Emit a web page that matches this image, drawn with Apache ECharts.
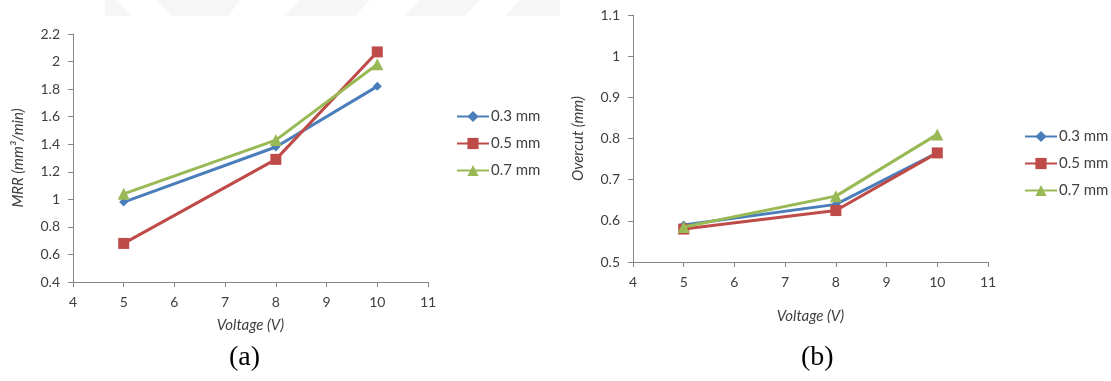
<!DOCTYPE html>
<html>
<head>
<meta charset="utf-8">
<script src="https://cdn.jsdelivr.net/npm/echarts@6/dist/echarts.min.js"></script>
<style>
  html, body { margin: 0; padding: 0; background: #fff; }
  #chart { width: 1111px; height: 381px; }
</style>
</head>
<body>
<div id="chart"></div>
<script>
// Voltage levels (V)
const voltage = [5, 8, 10];
const seriesNames = ['0.3 mm', '0.5 mm', '0.7 mm'];

// (a) Material removal rate (mm³/min)
const mrr03 = [0.98, 1.38, 1.82];
const mrr05 = [0.68, 1.29, 2.07];
const mrr07 = [1.04, 1.43, 1.98];

// (b) Overcut (mm)
const oc03 = [0.59, 0.64, 0.765];
const oc05 = [0.58, 0.625, 0.765];
const oc07 = [0.585, 0.66, 0.81];

const colors = ['#4A7EBB', '#BE4B48', '#98B954'];
const symbols = ['diamond', 'rect', 'triangle'];
const symbolSizes = [9, 11, 12];

const font = 'Lato, "Open Sans", sans-serif';
const tickText = { color: '#404040', fontSize: 14, fontFamily: font };
const axisLineStyle = { color: '#868686', width: 1 };

function pairs(xs, ys) { return xs.map((x, i) => [x, ys[i]]); }

function makeSeries(dataSets, axisIndex) {
  return dataSets.map((vals, i) => ({
    name: seriesNames[i],
    type: 'line',
    xAxisIndex: axisIndex,
    yAxisIndex: axisIndex,
    data: pairs(voltage, vals),
    symbol: symbols[i],
    symbolSize: symbolSizes[i],
    showAllSymbol: true,
    lineStyle: { color: colors[i], width: 3 },
    itemStyle: { color: colors[i] },
    emphasis: { disabled: true },
    animation: false,
    z: 2 + i
  }));
}

function xAxis(gridIndex, nameGap) {
  return {
    type: 'value', gridIndex, min: 4, max: 11, interval: 1,
    name: 'Voltage (V)', nameLocation: 'middle', nameGap,
    nameTextStyle: { fontStyle: 'italic', fontSize: 15, color: '#404040', fontFamily: font },
    axisLine: { show: true, lineStyle: axisLineStyle },
    axisTick: { show: true, length: 5, lineStyle: axisLineStyle },
    axisLabel: Object.assign({ margin: 13 }, tickText),
    splitLine: { show: false }
  };
}

function yAxis(gridIndex, min, max, interval, name, nameGap) {
  return {
    type: 'value', gridIndex, min, max, interval,
    name, nameLocation: 'middle', nameGap,
    nameTextStyle: { fontStyle: 'italic', fontSize: 15, color: '#404040', fontFamily: font },
    axisLine: { show: true, lineStyle: axisLineStyle },
    axisTick: { show: true, length: 5, lineStyle: axisLineStyle },
    axisLabel: Object.assign({ margin: 13 }, tickText),
    splitLine: { show: false }
  };
}

function legend(left, top) {
  return {
    orient: 'vertical', left, top,
    data: seriesNames,
    itemWidth: 32, itemHeight: 14, itemGap: 12,
    textStyle: { fontSize: 15, color: '#404040', fontFamily: font, padding: [0, 0, 0, -3] },
    selectedMode: false
  };
}

const chart = echarts.init(document.getElementById('chart'), null, { renderer: 'canvas' });

const option = {
  backgroundColor: '#ffffff',
  animation: false,
  graphic: [
    // faint header band across the top
    { type: 'rect', shape: { x: 105, y: 0, width: 455, height: 16 }, style: { fill: '#f6f6f6' }, silent: true },
    { type: 'polygon', shape: { points: [[117, 0], [157, 0], [172, 16], [132, 16]] }, style: { fill: '#ffffff' }, silent: true },
    { type: 'polygon', shape: { points: [[240, 0], [300, 0], [283, 16], [228, 16]] }, style: { fill: '#ffffff' }, silent: true },
    { type: 'polygon', shape: { points: [[370, 0], [420, 0], [405, 16], [355, 16]] }, style: { fill: '#ffffff' }, silent: true },
    { type: 'polygon', shape: { points: [[480, 0], [520, 0], [505, 16], [465, 16]] }, style: { fill: '#ffffff' }, silent: true },
    // panel captions
    { type: 'text', left: 229, top: 344, style: { text: '(a)', font: '28px "Liberation Serif", "DejaVu Serif", serif', fill: '#000' } },
    { type: 'text', left: 801, top: 344, style: { text: '(b)', font: '28px "Liberation Serif", "DejaVu Serif", serif', fill: '#000' } }
  ],
  grid: [
    { left: 73, top: 34, width: 355, height: 248, containLabel: false },
    { left: 633, top: 15, width: 355, height: 247, containLabel: false }
  ],
  xAxis: [xAxis(0, 36), xAxis(1, 47)],
  yAxis: [
    yAxis(0, 0.4, 2.2, 0.2, 'MRR (mm³/min)', 47),
    yAxis(1, 0.5, 1.1, 0.1, 'Overcut (mm)', 47)
  ],
  legend: [legend(451, 104), legend(1019, 124)],
  series: [].concat(
    makeSeries([mrr03, mrr05, mrr07], 0),
    makeSeries([oc03, oc05, oc07], 1)
  )
};

chart.setOption(option);
</script>
</body>
</html>
